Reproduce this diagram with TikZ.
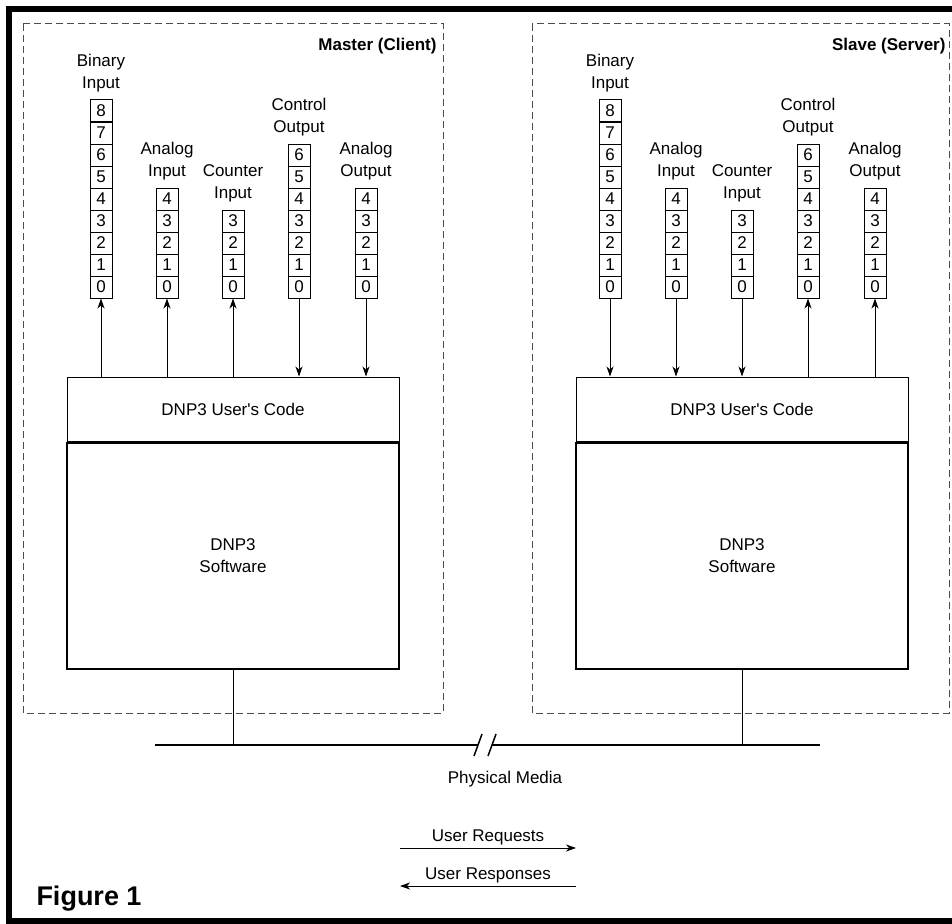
\documentclass[tikz,border=0pt]{standalone}
\usepackage{fontspec}
\setmainfont{Liberation Sans}
\usetikzlibrary{positioning,arrows.meta}

\begin{document}
\begin{tikzpicture}[x=1pt,y=-1pt,line width=1pt,
  txt/.style={align=center,inner sep=0pt,font=\fontsize{17}{22}\selectfont},
  title/.style={inner sep=0pt,font=\fontsize{17}{22}\selectfont\bfseries},
  bit/.style={rectangle,draw,minimum width=22pt,minimum height=22pt,inner sep=0pt,font=\fontsize{17}{20}\selectfont},
  zone/.style={draw=black!70,dash pattern=on 7pt off 4pt},
  layer/.style={rectangle,draw,minimum width=332pt,txt},
  flow/.style={-{Stealth[length=10pt,width=7pt,inset=3pt]}}]
\useasboundingbox (0,0) rectangle (952,923);
\draw[line width=6pt] (960,9) -- (9,9) -- (9,921) -- (960,921);

% master on the left, slave 509 further right
\foreach \s/\dx/\xr/\name in {m/0/443/Master (Client),s/509/949/Slave (Server)}{
  \draw[zone] (23+\dx,24) rectangle (\xr,713);
  \node[title,anchor=east] (\s-title) at (437+\dx,46) {\name};
  % point registers
  \foreach \r/\x/\n/\lab in {bi/101/8/Binary\\Input,ai/167/4/Analog\\Input,
      ci/233/3/Counter\\Input,co/299/6/Control\\Output,ao/366/4/Analog\\Output}{
    \foreach \i in {0,...,\n}
      \node[bit] (\s-\r\i) at (\x+\dx,287-22*\i) {\i};
    \node[txt,above=7pt of \s-\r\n] (\s-\r-lab) {\lab};
  }
  \node[layer,minimum height=64pt] (\s-code) at (233+\dx,409) {DNP3 User\textquotesingle s Code};
  \node[layer,minimum height=226pt,line width=2pt,below=0pt of \s-code] (\s-soft) {DNP3\\Software};
}

% master reads the inputs and writes the outputs
\foreach \r in {bi,ai,ci}
  \draw[flow] (m-\r0.south |- m-code.north) -- (m-\r0.south);
\foreach \r in {co,ao}
  \draw[flow] (m-\r0.south) -- (m-\r0.south |- m-code.north);
% slave the other way round
\foreach \r in {bi,ai,ci}
  \draw[flow] (s-\r0.south) -- (s-\r0.south |- s-code.north);
\foreach \r in {co,ao}
  \draw[flow] (s-\r0.south |- s-code.north) -- (s-\r0.south);

% physical media
\coordinate (bus-l) at (155,745);
\coordinate (bus-r) at (820,745);
\coordinate (cut-l) at (478,745);
\coordinate (cut-r) at (492,745);
\draw[line width=2pt] (bus-l) -- (cut-l) (cut-r) -- (bus-r);
\draw[line width=1.5pt] ([shift={(-4,11)}]cut-l) -- ([shift={(4,-11)}]cut-l)
  ([shift={(-4,11)}]cut-r) -- ([shift={(4,-11)}]cut-r);
\draw (m-soft.south) -- (m-soft.south |- bus-l);
\draw (s-soft.south) -- (s-soft.south |- bus-l);
\node[txt] (media) at (505,779) {Physical Media};

% legend
\coordinate (req-l) at (400,848);
\coordinate (req-r) at (576,848);
\coordinate (resp-l) at (400,886);
\coordinate (resp-r) at (576,886);
\draw[flow] (req-l) -- (req-r) node[txt,midway,above=2pt] (req) {User Requests};
\draw[flow] (resp-r) -- (resp-l) node[txt,midway,above=2pt] (resp) {User Responses};

\node[inner sep=0pt,anchor=base west,font=\fontsize{27}{30}\selectfont\bfseries] (fig) at (36,905) {Figure 1};
\end{tikzpicture}
\end{document}
